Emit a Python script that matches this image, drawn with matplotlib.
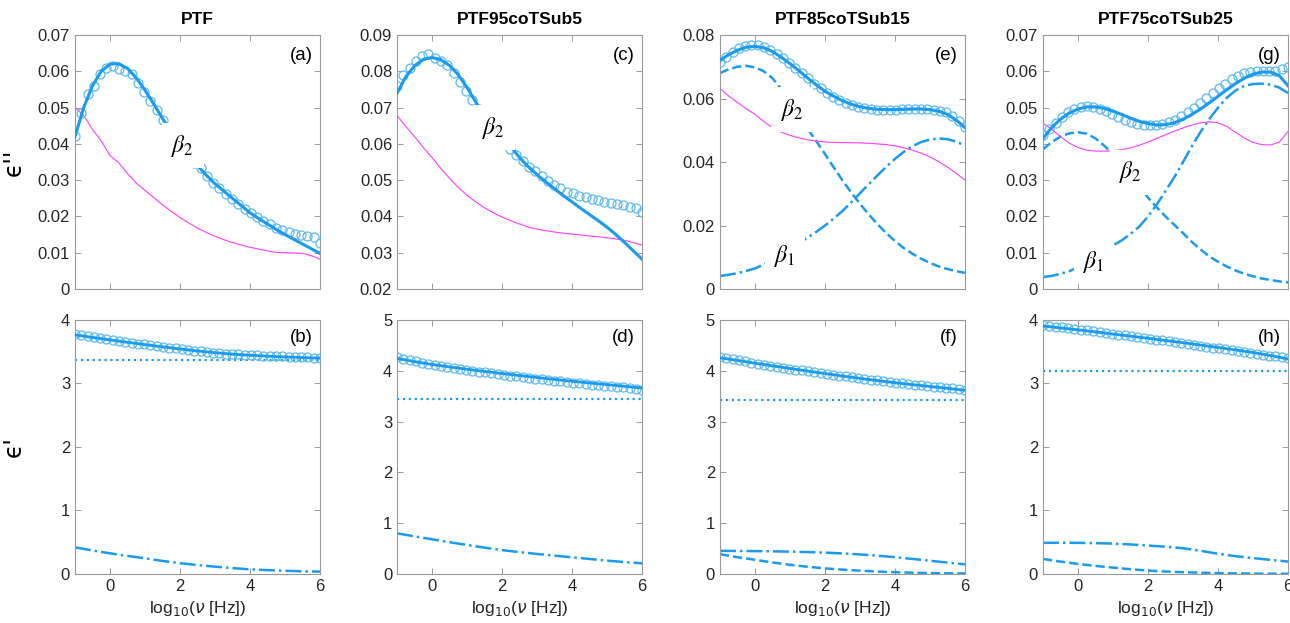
import numpy as np
import matplotlib
matplotlib.use('Agg')
import matplotlib.pyplot as plt
from matplotlib.ticker import FuncFormatter

plt.rcParams['font.family'] = ['Liberation Sans', 'DejaVu Sans']

# sample positions (log10 frequency)
cx = np.linspace(-1, 6, 40)          # measured points
lx = np.arange(-1, 6.01, 0.25)       # model curves, loss panels
bx = np.arange(-1, 6.01, 0.5)        # model curves, storage panels

titles = ['PTF', 'PTF95coTSub5', 'PTF85coTSub15', 'PTF75coTSub25']

# ---------- eps'' (top row) ----------
a_circ = [0.0422, 0.0486, 0.0538, 0.0560, 0.0593, 0.0608, 0.0615, 0.0606, 0.0602, 0.0593,
          0.0567, 0.0544, 0.0518, 0.0493, 0.0466, 0.0440, 0.0415, 0.0390, 0.0368, 0.0348,
          0.0333, 0.0312, 0.0293, 0.0278, 0.0262, 0.0248, 0.0234, 0.0220, 0.0209, 0.0198,
          0.0188, 0.0179, 0.0167, 0.0163, 0.0156, 0.0152, 0.0149, 0.0147, 0.0142, 0.0126]
a_fit = [0.0420, 0.0500, 0.0560, 0.0600, 0.0620, 0.0621, 0.0608, 0.0582, 0.0548, 0.0510,
         0.0470, 0.0432, 0.0398, 0.0368, 0.0340, 0.0314, 0.0290, 0.0270, 0.0250, 0.0230,
         0.0210, 0.0194, 0.0179, 0.0164, 0.0150, 0.0137, 0.0124, 0.0111, 0.0098]
a_cond = [0.0500, 0.0478, 0.0440, 0.0408, 0.0368, 0.0348, 0.0318, 0.0292, 0.0272, 0.0252,
          0.0232, 0.0214, 0.0197, 0.0182, 0.0168, 0.0156, 0.0145, 0.0136, 0.0128, 0.0121,
          0.0115, 0.0110, 0.0105, 0.0101, 0.0100, 0.0099, 0.0098, 0.0092, 0.0082]

c_circ = [0.0760, 0.0790, 0.0808, 0.0828, 0.0843, 0.0847, 0.0838, 0.0828, 0.0817, 0.0794,
          0.0771, 0.0747, 0.0721, 0.0695, 0.0670, 0.0646, 0.0623, 0.0603, 0.0586, 0.0569,
          0.0553, 0.0537, 0.0526, 0.0512, 0.0498, 0.0487, 0.0478, 0.0468, 0.0464, 0.0457,
          0.0453, 0.0448, 0.0445, 0.0441, 0.0436, 0.0434, 0.0432, 0.0427, 0.0422, 0.0413]
c_fit = [0.0740, 0.0785, 0.0815, 0.0833, 0.0838, 0.0832, 0.0816, 0.0790, 0.0755, 0.0715,
         0.0678, 0.0645, 0.0615, 0.0592, 0.0562, 0.0537, 0.0515, 0.0495, 0.0476, 0.0457,
         0.0440, 0.0422, 0.0405, 0.0388, 0.0370, 0.0350, 0.0328, 0.0305, 0.0282]
c_cond = [0.0678, 0.0648, 0.0620, 0.0590, 0.0562, 0.0532, 0.0505, 0.0480, 0.0458, 0.0440,
          0.0424, 0.0410, 0.0398, 0.0388, 0.0379, 0.0371, 0.0365, 0.0361, 0.0357, 0.0354,
          0.0351, 0.0349, 0.0346, 0.0344, 0.0341, 0.0338, 0.0334, 0.0328, 0.0321]

e_circ = [0.0716, 0.0732, 0.0748, 0.0758, 0.0766, 0.0770, 0.0768, 0.0762, 0.0752, 0.0740,
          0.0727, 0.0712, 0.0697, 0.0680, 0.0664, 0.0647, 0.0632, 0.0617, 0.0605, 0.0595,
          0.0586, 0.0579, 0.0574, 0.0570, 0.0567, 0.0565, 0.0564, 0.0564, 0.0565, 0.0566,
          0.0567, 0.0568, 0.0568, 0.0567, 0.0565, 0.0562, 0.0556, 0.0545, 0.0530, 0.0510]
e_fit = [0.0720, 0.0738, 0.0752, 0.0762, 0.0764, 0.0760, 0.0748, 0.0730, 0.0710, 0.0688,
         0.0665, 0.0643, 0.0623, 0.0607, 0.0593, 0.0582, 0.0574, 0.0569, 0.0566, 0.0565,
         0.0565, 0.0566, 0.0567, 0.0567, 0.0565, 0.0560, 0.0550, 0.0532, 0.0508]
e_beta2 = [0.0680, 0.0692, 0.0700, 0.0703, 0.0698, 0.0686, 0.0664, 0.0630, 0.0592, 0.0548,
           0.0505, 0.0466, 0.0425, 0.0383, 0.0342, 0.0304, 0.0268, 0.0235, 0.0204, 0.0176,
           0.0151, 0.0129, 0.0111, 0.0095, 0.0082, 0.0071, 0.0063, 0.0056, 0.0051]
e_beta1 = [0.0041, 0.0045, 0.0050, 0.0057, 0.0065, 0.0077, 0.0092, 0.0108, 0.0125, 0.0143,
           0.0162, 0.0180, 0.0200, 0.0222, 0.0246, 0.0273, 0.0302, 0.0330, 0.0358, 0.0385,
           0.0410, 0.0432, 0.0450, 0.0463, 0.0471, 0.0474, 0.0472, 0.0464, 0.0452]
e_cond = [0.0632, 0.0608, 0.0588, 0.0568, 0.0550, 0.0528, 0.0508, 0.0494, 0.0484, 0.0476,
          0.0470, 0.0466, 0.0463, 0.0462, 0.0461, 0.0461, 0.0460, 0.0459, 0.0457, 0.0455,
          0.0451, 0.0445, 0.0437, 0.0428, 0.0416, 0.0401, 0.0384, 0.0364, 0.0343]

g_circ = [0.0425, 0.0440, 0.0458, 0.0474, 0.0487, 0.0496, 0.0502, 0.0504, 0.0502, 0.0497,
          0.0490, 0.0482, 0.0474, 0.0467, 0.0461, 0.0456, 0.0453, 0.0452, 0.0452, 0.0455,
          0.0460, 0.0467, 0.0476, 0.0487, 0.0499, 0.0512, 0.0526, 0.0540, 0.0553, 0.0566,
          0.0578, 0.0587, 0.0594, 0.0598, 0.0600, 0.0601, 0.0601, 0.0602, 0.0605, 0.0613]
g_fit = [0.0415, 0.0445, 0.0468, 0.0485, 0.0496, 0.0502, 0.0502, 0.0498, 0.0490, 0.0481,
         0.0471, 0.0462, 0.0456, 0.0452, 0.0453, 0.0458, 0.0468, 0.0481, 0.0496, 0.0513,
         0.0531, 0.0549, 0.0566, 0.0581, 0.0592, 0.0598, 0.0598, 0.0588, 0.0560]
g_beta2 = [0.0385, 0.0405, 0.0420, 0.0429, 0.0432, 0.0428, 0.0415, 0.0395, 0.0372, 0.0345,
           0.0315, 0.0282, 0.0252, 0.0225, 0.0200, 0.0177, 0.0154, 0.0130, 0.0109, 0.0090,
           0.0075, 0.0062, 0.0051, 0.0042, 0.0035, 0.0029, 0.0025, 0.0021, 0.0018]
g_beta1 = [0.0033, 0.0036, 0.0042, 0.0049, 0.0060, 0.0073, 0.0088, 0.0104, 0.0120, 0.0134,
           0.0152, 0.0172, 0.0200, 0.0233, 0.0270, 0.0308, 0.0350, 0.0393, 0.0433, 0.0468,
           0.0500, 0.0527, 0.0547, 0.0560, 0.0565, 0.0566, 0.0563, 0.0555, 0.0540]
g_cond = [0.0457, 0.0440, 0.0420, 0.0402, 0.0390, 0.0383, 0.0380, 0.0380, 0.0381, 0.0384,
          0.0389, 0.0396, 0.0405, 0.0415, 0.0425, 0.0435, 0.0444, 0.0452, 0.0458, 0.0461,
          0.0458, 0.0448, 0.0432, 0.0416, 0.0404, 0.0398, 0.0397, 0.0405, 0.0434]

# ---------- eps' (bottom row) ----------
b_circ = [3.780, 3.763, 3.747, 3.731, 3.715, 3.699, 3.684, 3.670, 3.656, 3.642,
          3.629, 3.616, 3.603, 3.590, 3.577, 3.564, 3.551, 3.538, 3.527, 3.516,
          3.506, 3.496, 3.487, 3.479, 3.472, 3.465, 3.459, 3.453, 3.447, 3.442,
          3.437, 3.433, 3.429, 3.425, 3.421, 3.418, 3.415, 3.412, 3.409, 3.406]
b_fit = [3.765, 3.725, 3.686, 3.648, 3.612, 3.577, 3.543, 3.512, 3.485, 3.462,
         3.444, 3.430, 3.418, 3.408, 3.400]
b_beta2 = [0.420, 0.370, 0.325, 0.285, 0.247, 0.205, 0.170, 0.140, 0.115, 0.092,
           0.073, 0.060, 0.050, 0.042, 0.037]
b_inf = 3.37

d_circ = [4.265, 4.236, 4.209, 4.183, 4.158, 4.134, 4.111, 4.090, 4.070, 4.051,
          4.033, 4.016, 4.000, 3.984, 3.968, 3.952, 3.936, 3.920, 3.905, 3.890,
          3.875, 3.861, 3.847, 3.833, 3.819, 3.805, 3.791, 3.778, 3.765, 3.752,
          3.740, 3.728, 3.716, 3.705, 3.694, 3.683, 3.672, 3.661, 3.648, 3.630]
d_fit = [4.245, 4.180, 4.125, 4.075, 4.030, 3.987, 3.946, 3.906, 3.867, 3.830,
         3.794, 3.760, 3.727, 3.695, 3.660]
d_beta2 = [0.800, 0.740, 0.683, 0.625, 0.571, 0.518, 0.470, 0.430, 0.394, 0.360,
           0.328, 0.295, 0.262, 0.235, 0.210]
d_inf = 3.45

f_circ = [4.270, 4.248, 4.227, 4.205, 4.184, 4.162, 4.141, 4.121, 4.101, 4.081,
          4.062, 4.043, 4.025, 4.007, 3.989, 3.971, 3.954, 3.937, 3.920, 3.904,
          3.888, 3.872, 3.856, 3.840, 3.825, 3.810, 3.795, 3.781, 3.767, 3.753,
          3.740, 3.727, 3.714, 3.701, 3.688, 3.676, 3.664, 3.652, 3.640, 3.625]
f_fit = [4.255, 4.205, 4.150, 4.097, 4.045, 3.995, 3.945, 3.897, 3.850, 3.806,
         3.765, 3.727, 3.690, 3.655, 3.615]
f_beta1 = [0.455, 0.453, 0.450, 0.446, 0.440, 0.431, 0.420, 0.404, 0.385, 0.360,
           0.330, 0.296, 0.260, 0.224, 0.190]
f_beta2 = [0.390, 0.330, 0.280, 0.226, 0.180, 0.142, 0.110, 0.085, 0.065, 0.048,
           0.035, 0.025, 0.018, 0.013, 0.010]
f_inf = 3.43

h_circ = [3.920, 3.908, 3.896, 3.884, 3.872, 3.860, 3.848, 3.835, 3.822, 3.809,
          3.796, 3.783, 3.770, 3.757, 3.744, 3.731, 3.718, 3.705, 3.692, 3.678,
          3.664, 3.650, 3.636, 3.622, 3.608, 3.594, 3.580, 3.566, 3.552, 3.538,
          3.524, 3.510, 3.496, 3.482, 3.468, 3.454, 3.440, 3.427, 3.414, 3.400]
h_fit = [3.905, 3.875, 3.845, 3.812, 3.778, 3.745, 3.712, 3.677, 3.642, 3.605,
         3.567, 3.528, 3.488, 3.440, 3.385]
h_beta1 = [0.490, 0.492, 0.490, 0.486, 0.478, 0.465, 0.447, 0.430, 0.405, 0.365,
           0.318, 0.280, 0.250, 0.222, 0.195]
h_beta2 = [0.237, 0.195, 0.158, 0.127, 0.100, 0.075, 0.053, 0.039, 0.028, 0.020,
           0.013, 0.009, 0.006, 0.004, 0.003]
h_inf = 3.19

BLUE = '#1a9bf0'
CIRC = '#5cb9f5'
MAG = '#ff3cff'
GREY = '#9a9a9a'
TXT = '#262626'

top = [
    dict(circ=a_circ, fit=a_fit, cond=a_cond, b2=None, b1=None, ylim=(0, 0.07), step=0.01,
         tag='(a)', lab=[(r'$\beta_2$', 2.08, 0.0395)]),
    dict(circ=c_circ, fit=c_fit, cond=c_cond, b2=None, b1=None, ylim=(0.02, 0.09), step=0.01,
         tag='(c)', lab=[(r'$\beta_2$', 1.76, 0.0645)]),
    dict(circ=e_circ, fit=e_fit, cond=e_cond, b2=e_beta2, b1=e_beta1, ylim=(0, 0.08), step=0.02,
         tag='(e)', lab=[(r'$\beta_2$', 1.06, 0.0565), (r'$\beta_1$', 0.85, 0.0105)]),
    dict(circ=g_circ, fit=g_fit, cond=g_cond, b2=g_beta2, b1=g_beta1, ylim=(0, 0.07), step=0.01,
         tag='(g)', lab=[(r'$\beta_2$', 1.5, 0.0322), (r'$\beta_1$', 0.45, 0.0075)]),
]
bottom = [
    dict(circ=b_circ, fit=b_fit, inf=b_inf, b2=b_beta2, b1=None, ylim=(0, 4), tag='(b)'),
    dict(circ=d_circ, fit=d_fit, inf=d_inf, b2=d_beta2, b1=None, ylim=(0, 5), tag='(d)'),
    dict(circ=f_circ, fit=f_fit, inf=f_inf, b2=f_beta2, b1=f_beta1, ylim=(0, 5), tag='(f)'),
    dict(circ=h_circ, fit=h_fit, inf=h_inf, b2=h_beta2, b1=h_beta1, ylim=(0, 4), tag='(h)'),
]


def style(ax):
    for s in ax.spines.values():
        s.set_color(GREY)
        s.set_linewidth(0.8)
    ax.tick_params(direction='in', top=True, right=True, length=4, width=0.7,
                   color=GREY, labelcolor=TXT, labelsize=12)
    ax.set_xlim(-1, 6)
    ax.set_xticks([0, 2, 4, 6])
    ax.yaxis.set_major_formatter(FuncFormatter(lambda v, p: '%g' % round(v, 4)))


fig = plt.figure(figsize=(12.9, 6.23), dpi=100)
lefts = [0.0581, 0.3078, 0.5581, 0.8085]
W, H = 0.19, 0.4077
box = dict(facecolor='white', edgecolor='none', boxstyle='square,pad=0.4')

for j in range(4):
    p = top[j]
    ax = fig.add_axes([lefts[j], 0.5361, W, H])
    ax.plot(cx, p['circ'], 'o', mfc='none', mec=CIRC, ms=6.5, mew=0.9, zorder=3)
    ax.plot(lx, p['fit'], '-', color=BLUE, lw=2.2, zorder=4)
    if p['b2'] is not None:
        ax.plot(lx, p['b2'], '--', color=BLUE, lw=1.8, zorder=2)
    if p['b1'] is not None:
        ax.plot(lx, p['b1'], '-.', color=BLUE, lw=1.8, zorder=2)
    ax.plot(lx, p['cond'], '-', color=MAG, lw=0.8, zorder=2)
    for s, x, y in p['lab']:
        ax.text(x, y, s, fontsize=17, ha='center', va='center', color='black', zorder=10,
                math_fontfamily='stix', bbox=box)
    ax.set_ylim(*p['ylim'])
    ax.set_yticks(np.arange(p['ylim'][0], p['ylim'][1] + 1e-9, p['step']))
    style(ax)
    ax.set_xticklabels([])
    ax.text(0.97, 0.92, p['tag'], transform=ax.transAxes, ha='right', va='center',
            fontsize=13.5, color='black')
    ax.set_title(titles[j], fontweight='bold', fontsize=12.5, pad=8)
    if j == 0:
        ax.set_ylabel("\u03f5''", fontsize=17, family=['DejaVu Sans'])
        ax.yaxis.set_label_coords(-0.2, 0.5)

    q = bottom[j]
    bx_ax = fig.add_axes([lefts[j], 0.0787, W, H])
    bx_ax.plot(cx, q['circ'], 'o', mfc='none', mec=CIRC, ms=6.5, mew=0.9, zorder=3)
    bx_ax.plot(bx, q['fit'], '-', color=BLUE, lw=2.0, zorder=4)
    bx_ax.axhline(q['inf'], color=BLUE, ls=':', lw=1.6, zorder=2)
    bx_ax.plot(bx, q['b2'], '-.' if q['b1'] is None else '--', color=BLUE, lw=1.8, zorder=2)
    if q['b1'] is not None:
        bx_ax.plot(bx, q['b1'], '-.', color=BLUE, lw=1.8, zorder=2)
    bx_ax.set_ylim(*q['ylim'])
    bx_ax.set_yticks(range(q['ylim'][0], q['ylim'][1] + 1))
    style(bx_ax)
    bx_ax.text(0.97, 0.93, q['tag'], transform=bx_ax.transAxes, ha='right', va='center',
               fontsize=13.5, color='black')
    bx_ax.set_xlabel(r'log$_{10}$($\nu$ [Hz])', fontsize=12.5, color=TXT, labelpad=4)
    if j == 0:
        bx_ax.set_ylabel("\u03f5'", fontsize=17, family=['DejaVu Sans'])
        bx_ax.yaxis.set_label_coords(-0.2, 0.5)

fig.savefig('out.png', dpi=100)
